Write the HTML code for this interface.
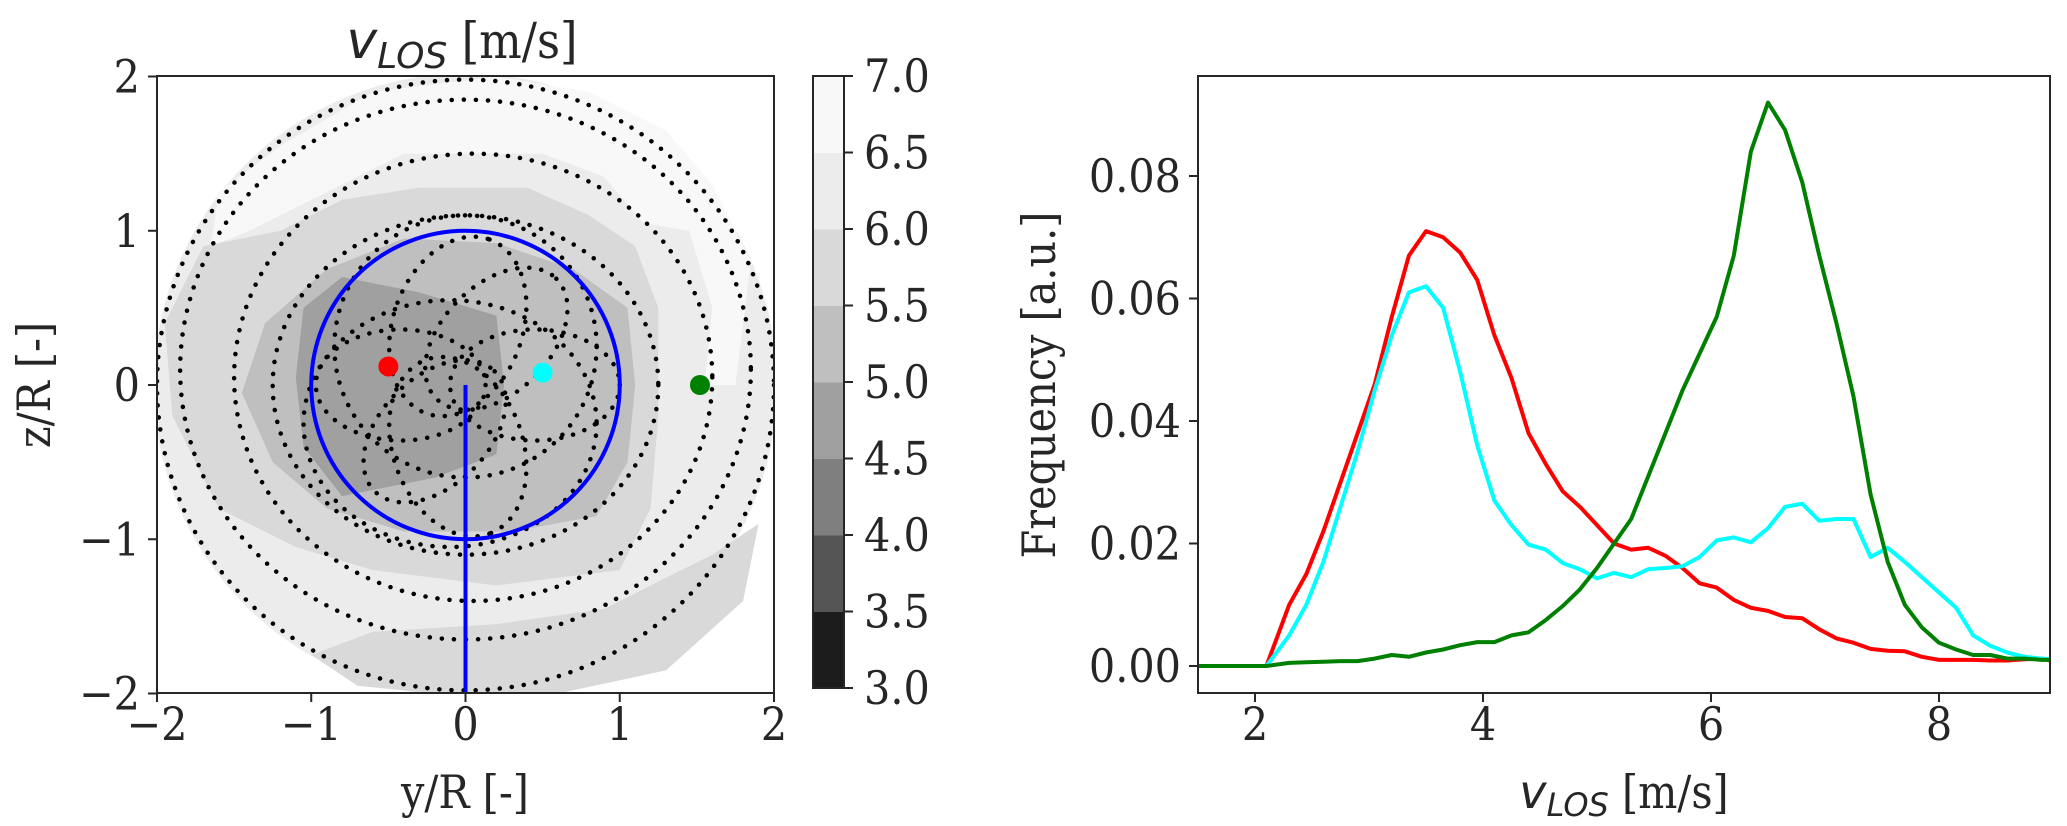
<!DOCTYPE html>
<html><head><meta charset="utf-8">
<style>
html,body{margin:0;padding:0;background:#fff;}
svg{display:block;}
text{font-family:"DejaVu Serif Condensed","DejaVu Serif","Liberation Serif",serif;font-stretch:condensed;fill:#262626;}
.sans{font-family:"DejaVu Sans","Liberation Sans",sans-serif;font-style:italic;font-stretch:normal;}
</style></head>
<body>
<svg id="fig" width="2067" height="826" viewBox="0 0 2067 826" xmlns="http://www.w3.org/2000/svg">
  <defs>
    <clipPath id="clipL"><rect x="157" y="76" width="617" height="617"/></clipPath>
    <clipPath id="clipR"><rect x="1198" y="76" width="852" height="617"/></clipPath>
  </defs>
  <g id="left"></g>
  <g id="cbar"></g>
  <g id="right"></g>
</svg>
<script>
// ---------- Histogram data ----------
const vlos = [1.5,2.1,2.3,2.45,2.6,2.75,2.9,3.05,3.2,3.35,3.5,3.65,3.8,3.95,4.1,4.25,4.4,4.55,4.7,4.85,5.0,5.15,5.3,5.45,5.6,5.75,5.9,6.05,6.2,6.35,6.5,6.65,6.8,6.95,7.1,7.25,7.4,7.55,7.7,7.85,8.0,8.15,8.3,8.45,8.6,8.75,8.9,9.0];
const freqRed = [0,0,0.010,0.015,0.022,0.030,0.038,0.046,0.057,0.067,0.071,0.070,0.0675,0.063,0.054,0.047,0.038,0.033,0.0285,0.026,0.023,0.020,0.019,0.0193,0.018,0.016,0.0135,0.0128,0.0108,0.0095,0.009,0.008,0.0078,0.006,0.0045,0.0038,0.0028,0.0025,0.0024,0.0015,0.001,0.001,0.001,0.0009,0.0009,0.0011,0.0012,0.0008];
const freqCyan = [0,0,0.005,0.010,0.017,0.026,0.035,0.045,0.054,0.061,0.062,0.0585,0.048,0.036,0.027,0.023,0.0198,0.019,0.0168,0.0158,0.0143,0.0152,0.0145,0.0158,0.016,0.0163,0.0178,0.0205,0.021,0.0202,0.0225,0.026,0.0265,0.0237,0.024,0.024,0.0178,0.0193,0.017,0.0145,0.012,0.0095,0.005,0.0033,0.0022,0.0015,0.0012,0.0011];
const freqGreen = [0,0,0.0005,0.0006,0.0007,0.0008,0.0008,0.0012,0.0018,0.0015,0.0022,0.0027,0.0034,0.0039,0.0039,0.005,0.0055,0.0075,0.0098,0.0125,0.016,0.020,0.024,0.031,0.038,0.045,0.051,0.057,0.067,0.084,0.092,0.0875,0.079,0.067,0.056,0.044,0.028,0.017,0.010,0.0063,0.0038,0.0027,0.0018,0.0018,0.0012,0.0012,0.001,0.001];
const xTicksR = [2,4,6,8];
const yTicksR = [0,0.02,0.04,0.06,0.08];
const yTickLabelsR = ["0.00","0.02","0.04","0.06","0.08"];
// ---------- Contour panel data ----------
const axTicksL = [-2,-1,0,1,2];
const axTickLabelsL = ["\u22122","\u22121","0","1","2"];
const cbLevels = [3.0,3.5,4.0,4.5,5.0,5.5,6.0,6.5,7.0];
const cbLabels = ["3.0","3.5","4.0","4.5","5.0","5.5","6.0","6.5","7.0"];
const pointY = [-0.5,0.5,1.52];
const pointZ = [0.12,0.08,0.0];
const pointColors = ["#ff0000","#00ffff","#008000"];

const NS="http://www.w3.org/2000/svg";
const FS=46;
function mk(tag,attrs,parent){const e=document.createElementNS(NS,tag);for(const k in attrs)e.setAttribute(k,attrs[k]);parent.appendChild(e);return e;}

// ---------- left axes ----------
const L=document.getElementById('left');
const X=v=>157+(v+2)*154.25, Z=v=>385-v*154.25, S=v=>v*154.25;
const bandCol=["#1c1c1c","#555555","#7f7f7f","#a0a0a0","#bfbfbf","#d9d9d9","#ececec","#f8f8f8"];
const cg=mk('g',{'clip-path':'url(#clipL)'},L);


function poly(pts,fill,name){const d='M'+pts.map(p=>X(p[0]).toFixed(1)+','+Z(p[1]).toFixed(1)).join('L')+'Z';const e=mk('path',{d:d,fill:fill},cg);return e;}
let e=mk('circle',{cx:X(0),cy:Z(0),r:S(2.02),fill:bandCol[6]},cg);


poly([[-1.6,1.25],[-1.2,1.55],[-0.6,1.9],[0.2,2.0],[0.8,1.9],[1.3,1.65],[1.6,1.3],[1.85,0.8],[1.75,0.0],[1.55,0.0],[1.6,0.5],[1.45,1.0],[1.15,1.05],[0.9,1.35],[0.5,1.5],[-0.4,1.5],[-1.0,1.2],[-1.4,1.0],[-1.65,0.9]],bandCol[7],'contour-band-6.5-7');
poly([[-1.0,-1.75],[-0.6,-1.6],[0.2,-1.55],[0.9,-1.45],[1.3,-1.25],[1.6,-1.1],[1.9,-0.9],[1.8,-1.4],[1.3,-1.85],[0.6,-2.0],[-0.2,-2.0],[-0.7,-1.95]],bandCol[5],'contour-band-5.5-6-bottom');
poly([[-1.95,0.4],[-1.7,0.9],[-1.45,0.95],[-1.2,1.0],[-0.8,1.2],[-0.3,1.28],[0.4,1.28],[0.8,1.1],[1.1,0.9],[1.25,0.5],[1.25,-0.2],[1.2,-0.8],[1.0,-1.2],[0.2,-1.3],[-0.6,-1.2],[-1.1,-1.05],[-1.6,-0.8],[-1.9,-0.2]],bandCol[5],'contour-band-5.5-6');
poly([[-1.45,-0.05],[-1.3,0.4],[-0.9,0.75],[-0.4,0.95],[0.2,0.92],[0.7,0.75],[1.05,0.5],[1.1,0.0],[1.05,-0.5],[0.85,-0.85],[0.3,-0.95],[-0.4,-0.95],[-0.9,-0.8],[-1.25,-0.5]],bandCol[4],'contour-band-5-5.5');
poly([[-1.1,0.05],[-1.05,0.5],[-0.8,0.7],[-0.3,0.6],[0.2,0.45],[0.25,0.0],[0.2,-0.45],[-0.2,-0.6],[-0.8,-0.72],[-1.05,-0.4]],bandCol[3],'contour-band-4.5-5');

const dg=mk('g',{fill:'none',stroke:'#000','stroke-width':4.5,'stroke-dasharray':'0.1 12','stroke-linecap':'round','clip-path':'url(#clipL)'},L);


const ells=[[-0.42,0.0,0.55,0.36,0],[0.45,0.0,0.55,0.36,0],[-0.05,0.38,0.6,0.42,-70],[-0.05,-0.4,0.6,0.42,70],[0.2,0.3,0.55,0.35,-45],[-0.2,-0.3,0.55,0.35,-45],
[0.0,0.25,0.85,0.85,0],[-0.1,-0.25,0.95,0.8,0],[0.0,0.0,1.25,1.1,0],[0.05,0.05,1.55,1.45,0],[0.0,0.1,1.85,1.75,0],[0.0,0.0,2.0,1.98,0]];
for(const q of ells){const el=mk('ellipse',{cx:X(q[0]),cy:Z(q[1]),rx:S(q[2]),ry:S(q[3]),transform:`rotate(${q[4]} ${X(q[0])} ${Z(q[1])})`},dg);

}
e=mk('circle',{cx:X(0),cy:Z(0),r:S(1),fill:'none',stroke:'#0000ff','stroke-width':4},L);


e=mk('line',{x1:X(0),y1:Z(0),x2:X(0),y2:Z(-2),stroke:'#0000ff','stroke-width':4},L);


for(let i=0;i<pointY.length;i++){const c=mk('circle',{cx:X(pointY[i]),cy:Z(pointZ[i]),r:10,fill:pointColors[i]},L);

}
e=mk('rect',{x:157,y:76,width:617,height:617,fill:'none',stroke:'#262626','stroke-width':2},L);


axTicksL.forEach((t,i)=>{
 mk('line',{x1:X(t),y1:693,x2:X(t),y2:702,stroke:'#262626','stroke-width':2},L);
 mk('line',{x1:148,y1:Z(t),x2:157,y2:Z(t),stroke:'#262626','stroke-width':2},L);
 let tx=mk('text',{x:X(t),y:740,'font-size':FS,'text-anchor':'middle'},L);tx.textContent=axTickLabelsL[i];
 
 
 let ty=mk('text',{x:140,y:Z(t)+16,'font-size':FS,'text-anchor':'end'},L);ty.textContent=axTickLabelsL[i];
 
 
});
let t=mk('text',{x:465,y:808,'font-size':FS,'text-anchor':'middle'},L);t.textContent='y/R [-]';


t=mk('text',{x:50,y:385,'font-size':FS,'text-anchor':'middle',transform:'rotate(-90 50 385)'},L);t.textContent='z/R [-]';


t=mk('text',{x:462,y:58,'font-size':50,'text-anchor':'middle'},L);
t.innerHTML='<tspan class="sans" font-size="52">v</tspan><tspan class="sans" font-size="36" dy="10">LOS</tspan><tspan dy="-10"> [m/s]</tspan>';



// ---------- colorbar ----------
const C=document.getElementById('cbar');
const CY=v=>688-(v-3)*153;
for(let i=0;i<cbLevels.length-1;i++){const r=mk('rect',{x:813,y:CY(cbLevels[i+1]),width:31,height:CY(cbLevels[i])-CY(cbLevels[i+1])+0.5,fill:bandCol[i]},C);

}
mk('rect',{x:813,y:76,width:31,height:612,fill:'none',stroke:'#262626','stroke-width':2},C);
cbLevels.forEach((v,i)=>{mk('line',{x1:844,y1:CY(v),x2:853,y2:CY(v),stroke:'#262626','stroke-width':2},C);
 const tx=mk('text',{x:864,y:CY(v)+16,'font-size':FS},C);tx.textContent=cbLabels[i];
 
 });

// ---------- right axes ----------
const R=document.getElementById('right');
const RX=v=>1198+(v-1.5)*114, RY=v=>666-v*6125;
const lg=mk('g',{'clip-path':'url(#clipR)',fill:'none','stroke-width':4,'stroke-linejoin':'round'},R);
[[freqRed,'#ff0000','red-histogram'],[freqCyan,'#00ffff','cyan-histogram'],[freqGreen,'#008000','green-histogram']].forEach(s=>{
 const d='M'+vlos.map((x,i)=>RX(x).toFixed(1)+','+RY(s[0][i]).toFixed(1)).join('L');
 const p=mk('path',{d:d,stroke:s[1]},lg);
 
 
});
e=mk('rect',{x:1198,y:76,width:852,height:617,fill:'none',stroke:'#262626','stroke-width':2},R);


xTicksR.forEach(v=>{mk('line',{x1:RX(v),y1:693,x2:RX(v),y2:702,stroke:'#262626','stroke-width':2},R);
 const tx=mk('text',{x:RX(v),y:740,'font-size':FS,'text-anchor':'middle'},R);tx.textContent=String(v);
 
 });
yTicksR.forEach((v,i)=>{mk('line',{x1:1189,y1:RY(v),x2:1198,y2:RY(v),stroke:'#262626','stroke-width':2},R);
 const tx=mk('text',{x:1181,y:RY(v)+16,'font-size':FS,'text-anchor':'end'},R);tx.textContent=yTickLabelsR[i];
 
 });
t=mk('text',{x:1624,y:808,'font-size':FS,'text-anchor':'middle'},R);
t.innerHTML='<tspan class="sans" font-size="46">v</tspan><tspan class="sans" font-size="32" dy="8">LOS</tspan><tspan dy="-8"> [m/s]</tspan>';


t=mk('text',{x:1055,y:385,'font-size':FS,'text-anchor':'middle',transform:'rotate(-90 1055 385)'},R);t.textContent='Frequency [a.u.]';


</script>
</body></html>
